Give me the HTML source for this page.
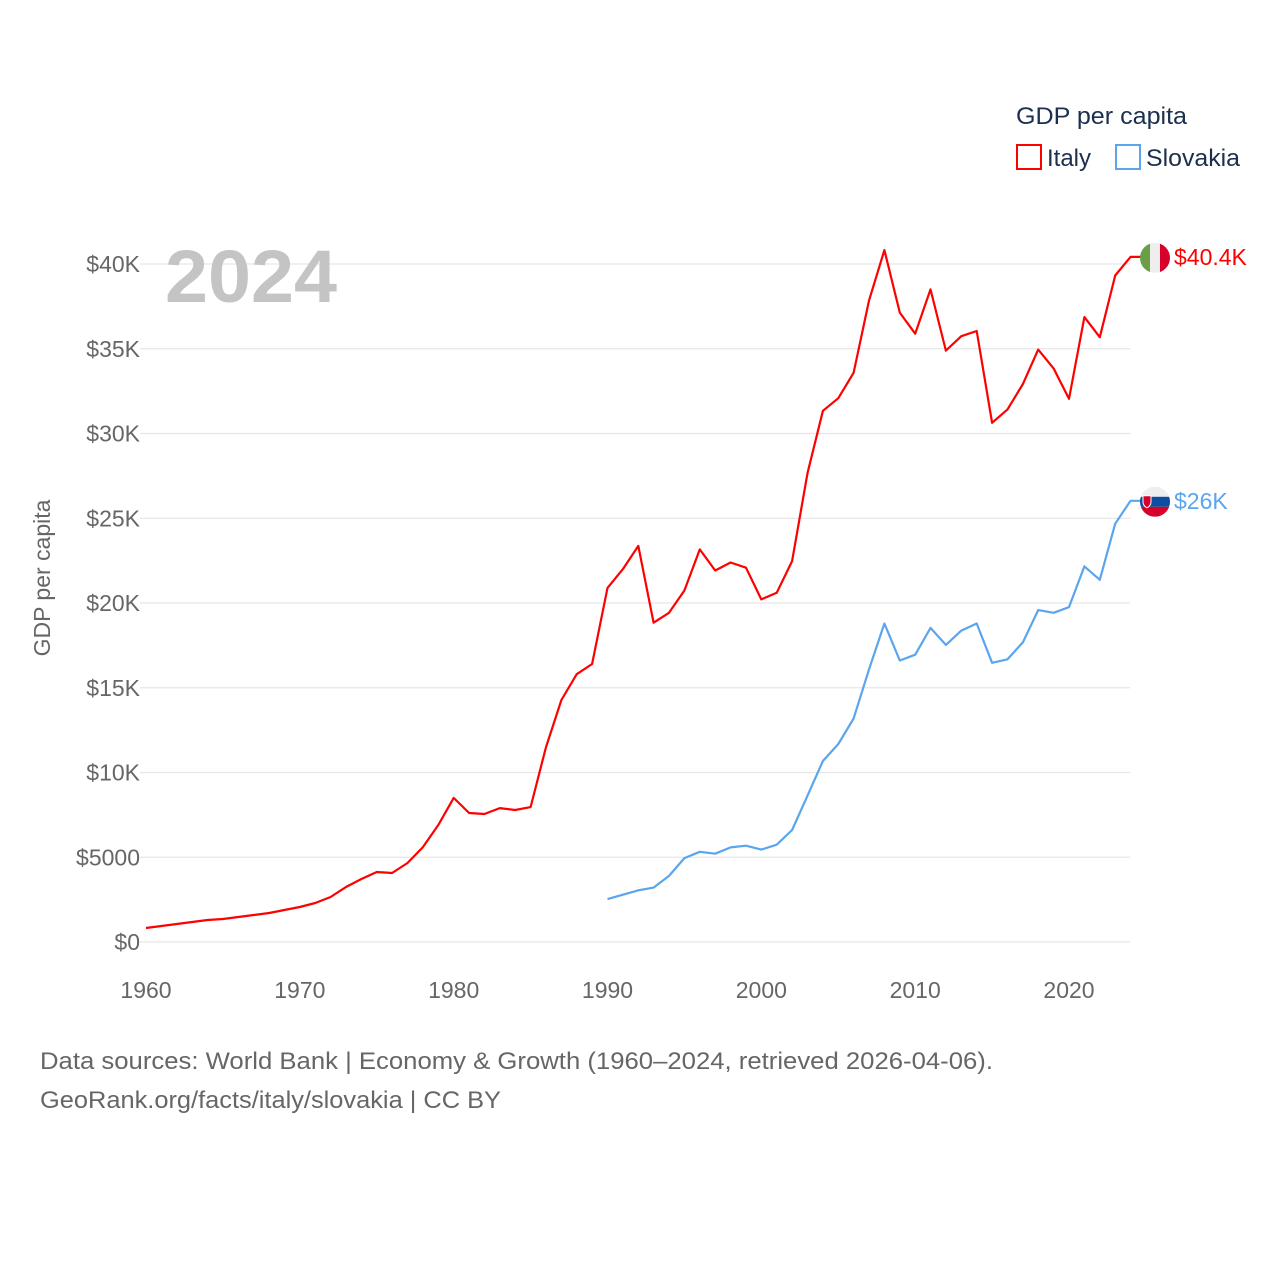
<!DOCTYPE html>
<html><head><meta charset="utf-8">
<style>
html,body{margin:0;padding:0;background:#fff;}
body{width:1280px;height:1280px;overflow:hidden;font-family:"Liberation Sans",sans-serif;}
</style></head>
<body>
<svg id="chart" width="1280" height="1280" viewBox="0 0 1280 1280" xmlns="http://www.w3.org/2000/svg" font-family="Liberation Sans, sans-serif">
<g id="grid"></g>
<g id="yticks"></g>
<g id="xticks"></g>
<text x="165" y="302" font-size="74" font-weight="bold" fill="#c4c4c4" textLength="172" lengthAdjust="spacingAndGlyphs">2024</text>
<text transform="translate(50,578) rotate(-90)" text-anchor="middle" font-size="23" fill="#666">GDP per capita</text>
<g id="series"></g>
<g>
<text x="1016" y="124" font-size="24" fill="#1c2f4d" textLength="171" lengthAdjust="spacingAndGlyphs">GDP per capita</text>
<g>
<rect x="1017" y="145" width="24" height="24" fill="none" stroke="#ff0000" stroke-width="2"/>
<text x="1047" y="166" font-size="24" fill="#1c2f4d">Italy</text></g>
<g>
<rect x="1116" y="145" width="24" height="24" fill="none" stroke="#5aa5ee" stroke-width="2"/>
<text x="1146" y="166" font-size="24" fill="#1c2f4d" textLength="94" lengthAdjust="spacingAndGlyphs">Slovakia</text></g>
</g>
<text x="40" y="1069" font-size="24" fill="#666" textLength="953" lengthAdjust="spacingAndGlyphs">Data sources: World Bank | Economy &amp; Growth (1960–2024, retrieved 2026-04-06).</text>
<text x="40" y="1108" font-size="24" fill="#666" textLength="461" lengthAdjust="spacingAndGlyphs">GeoRank.org/facts/italy/slovakia | CC BY</text>
</svg>
<script>
const italyYears = [1960,1961,1962,1963,1964,1965,1966,1967,1968,1969,1970,1971,1972,1973,1974,1975,1976,1977,1978,1979,1980,1981,1982,1983,1984,1985,1986,1987,1988,1989,1990,1991,1992,1993,1994,1995,1996,1997,1998,1999,2000,2001,2002,2003,2004,2005,2006,2007,2008,2009,2010,2011,2012,2013,2014,2015,2016,2017,2018,2019,2020,2021,2022,2023,2024];
const italyValues = [826,944,1062,1180,1298,1357,1475,1593,1711,1888,2065,2300,2655,3245,3717,4130,4070,4660,5600,6900,8500,7610,7550,7900,7790,7960,11500,14280,15800,16400,20890,22000,23370,18840,19420,20740,23160,21920,22390,22080,20210,20600,22470,27660,31340,32080,33580,37840,40820,37130,35890,38500,34890,35740,36050,30630,31420,32920,34950,33840,32050,36870,35680,39320,40420];
const slovakiaYears = [1990,1991,1992,1993,1994,1995,1996,1997,1998,1999,2000,2001,2002,2003,2004,2005,2006,2007,2008,2009,2010,2011,2012,2013,2014,2015,2016,2017,2018,2019,2020,2021,2022,2023,2024];
const slovakiaValues = [2530,2790,3050,3210,3900,4950,5320,5210,5580,5680,5450,5740,6610,8630,10680,11680,13180,16080,18790,16610,16950,18530,17530,18370,18790,16470,16680,17680,19580,19420,19760,22160,21370,24680,26030];
const yTicks = [0,5000,10000,15000,20000,25000,30000,35000,40000];
const yTickLabels = ["$0","$5000","$10K","$15K","$20K","$25K","$30K","$35K","$40K"];
const xTicks = [1960,1970,1980,1990,2000,2010,2020];
const italyEndLabel = "$40.4K";
const slovakiaEndLabel = "$26K";

const NS="http://www.w3.org/2000/svg";
const X0=146, X1=1069, Y0=942, Y1=264;
function xs(yr){return X0+(yr-1960)*(X1-X0)/60;}
function ys(v){return Y0-(v)*(Y0-Y1)/40000;}
function mk(tag,attrs,parent){const e=document.createElementNS(NS,tag);for(const k in attrs)e.setAttribute(k,attrs[k]);parent.appendChild(e);return e;}
const grid=document.getElementById('grid'),yt=document.getElementById('yticks'),xt=document.getElementById('xticks'),ser=document.getElementById('series');
yTicks.forEach((v,i)=>{
  const l=mk('line',{x1:140,x2:1130,y1:ys(v),y2:ys(v),stroke:'#e6e6e6','stroke-width':1.3},grid);
  
  
  const t=mk('text',{x:140,y:ys(v)+8,'text-anchor':'end','font-size':23,fill:'#666'},yt);
  t.textContent=yTickLabels[i];
  
  
});
xTicks.forEach(yr=>{
  const t=mk('text',{x:xs(yr),y:998,'text-anchor':'middle','font-size':23,fill:'#666'},xt);
  t.textContent=String(yr);
  
  
});
function drawSeries(years,vals,color,name,label,flag){
  let d=years.map((y,i)=>(i?'L':'M')+xs(y).toFixed(1)+' '+ys(vals[i]).toFixed(1)).join(' ');
  const lastY=ys(vals[vals.length-1]);
  d+=' L'+(xs(years[years.length-1])+10).toFixed(1)+' '+lastY.toFixed(1);
  const p=mk('path',{d:d,fill:'none',stroke:color,'stroke-width':2.2,'stroke-linejoin':'round'},ser);
  
  
  const g=mk('g',{},ser);
  
  
  const cx=1155, cy=lastY+1;
  const cid='clip-'+name;
  const cp=mk('clipPath',{id:cid},g);mk('circle',{cx:cx,cy:cy,r:15},cp);
  if(flag==='it'){
    mk('rect',{x:cx-15,y:cy-15,width:10,height:30,fill:'#6a9f45','clip-path':'url(#'+cid+')'},g);
    mk('rect',{x:cx-5,y:cy-15,width:10,height:30,fill:'#eeeeee','clip-path':'url(#'+cid+')'},g);
    mk('rect',{x:cx+5,y:cy-15,width:10,height:30,fill:'#d6002a','clip-path':'url(#'+cid+')'},g);
  } else {
    mk('rect',{x:cx-15,y:cy-15,width:30,height:10,fill:'#eeeeee','clip-path':'url(#'+cid+')'},g);
    mk('rect',{x:cx-15,y:cy-5,width:30,height:10,fill:'#0b4ea2','clip-path':'url(#'+cid+')'},g);
    mk('rect',{x:cx-15,y:cy+5,width:30,height:10,fill:'#d6002a','clip-path':'url(#'+cid+')'},g);
    mk('path',{d:`M${cx-12} ${cy-6} h8 v6 q0 4 -4 6 q-4 -2 -4 -6 z`,fill:'#d6002a',stroke:'#fff','stroke-width':1},g);
  }
  const t=mk('text',{x:1174,y:lastY+8,'font-size':23,fill:color},ser);
  t.textContent=label;
  
  
}
drawSeries(italyYears,italyValues,'#ff0000','italy',italyEndLabel,'it');
drawSeries(slovakiaYears,slovakiaValues,'#5aa5ee','slovakia',slovakiaEndLabel,'sk');
</script>
</body></html>
